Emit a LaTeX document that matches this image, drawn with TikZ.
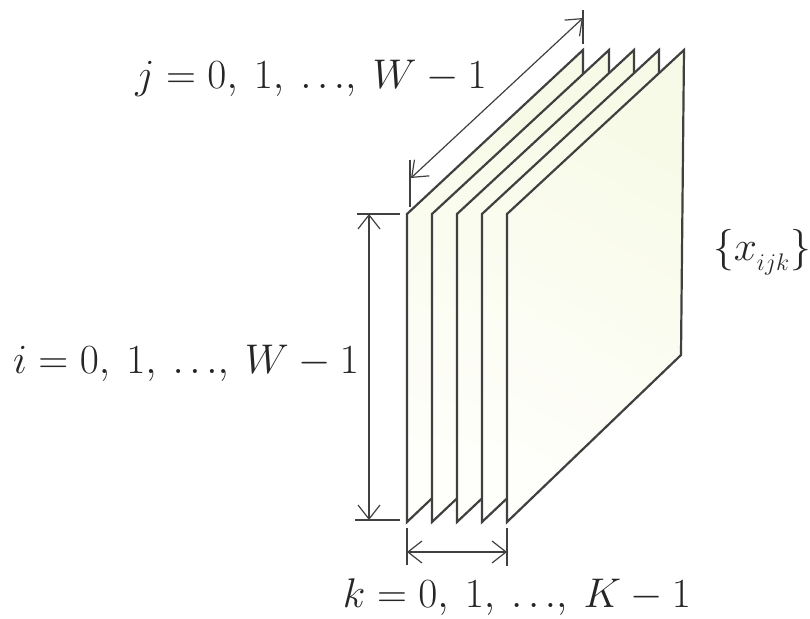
\documentclass[tikz,border=0pt]{standalone}
\usepackage{amsmath,amssymb}
\usetikzlibrary{arrows.meta}
\definecolor{sheetcolor}{RGB}{247,250,230}
\definecolor{paleend}{RGB}{254,254,250}
\newcommand{\tightdots}{.\kern2.8pt.\kern2.8pt.}
\tikzset{
    sheet/.style = {draw = black!75, line width = 1.1pt, bottom color = paleend, top color = sheetcolor, shading angle = -30, line join = miter},
    dimline/.style = {draw = black!75, line width = 0.6pt},
    dimarrow/.style = {dimline, {Straight Barb[length=7pt,width=11pt]}-{Straight Barb[length=7pt,width=11pt]}},
    lbl/.style = {font = \huge, inner sep = 0pt, text = black!85}
}
\begin{document}
\begin{tikzpicture}[x = 0.5pt, y = -0.5pt]
        \useasboundingbox(0,0)rectangle(810,619);
        %シート
        \foreach \n/\xa/\xb in {1/407/583, 2/432/609, 3/457/634, 4/482/659}{
            \path[sheet](\xa,522)--(\xa,214)--(\xb,50)--(\xb,355)--cycle;
        }
        \path[sheet](507,522)--(507,214)--(684,50)--(681,355)--cycle;
        %寸法線
        \coordinate(jtop1)at(583,10);
        \coordinate(jtop2)at(583,44);
        \coordinate(jbot1)at(410,160);
        \coordinate(jbot2)at(410,207);
        \draw[dimline](jtop1)to(jtop2);
        \draw[dimline](jbot1)to(jbot2);
        \draw[dimarrow](411,178)to(583,18);
        \coordinate(itop1)at(357,214);
        \coordinate(itop2)at(400,214);
        \coordinate(ibot1)at(355,520);
        \coordinate(ibot2)at(400,520);
        \draw[dimline](itop1)to(itop2);
        \draw[dimline](ibot1)to(ibot2);
        \draw[dimarrow](369,214)to(369,520);
        \coordinate(kleft1)at(407,528);
        \coordinate(kleft2)at(407,565);
        \coordinate(kright1)at(507,528);
        \coordinate(kright2)at(507,566);
        \draw[dimline](kleft1)to(kleft2);
        \draw[dimline](kright1)to(kright2);
        \draw[dimarrow](407,552)to(507,552);
        %ラベル
        \node[lbl](jlabel)at(311,78){$j=0,\:1,\:\tightdots,\:W-1$};
        \node[lbl](ilabel)at(186,363){$i=0,\:1,\:\tightdots,\:W-1$};
        \node[lbl](klabel)at(517,597){$k=0,\:1,\:\tightdots,\:K-1$};
        \node[lbl](xlabel)at(762,252){$\{x_{\lower2pt\hbox{$\scriptscriptstyle ijk$}}\}$};
    \end{tikzpicture}
\end{document}
